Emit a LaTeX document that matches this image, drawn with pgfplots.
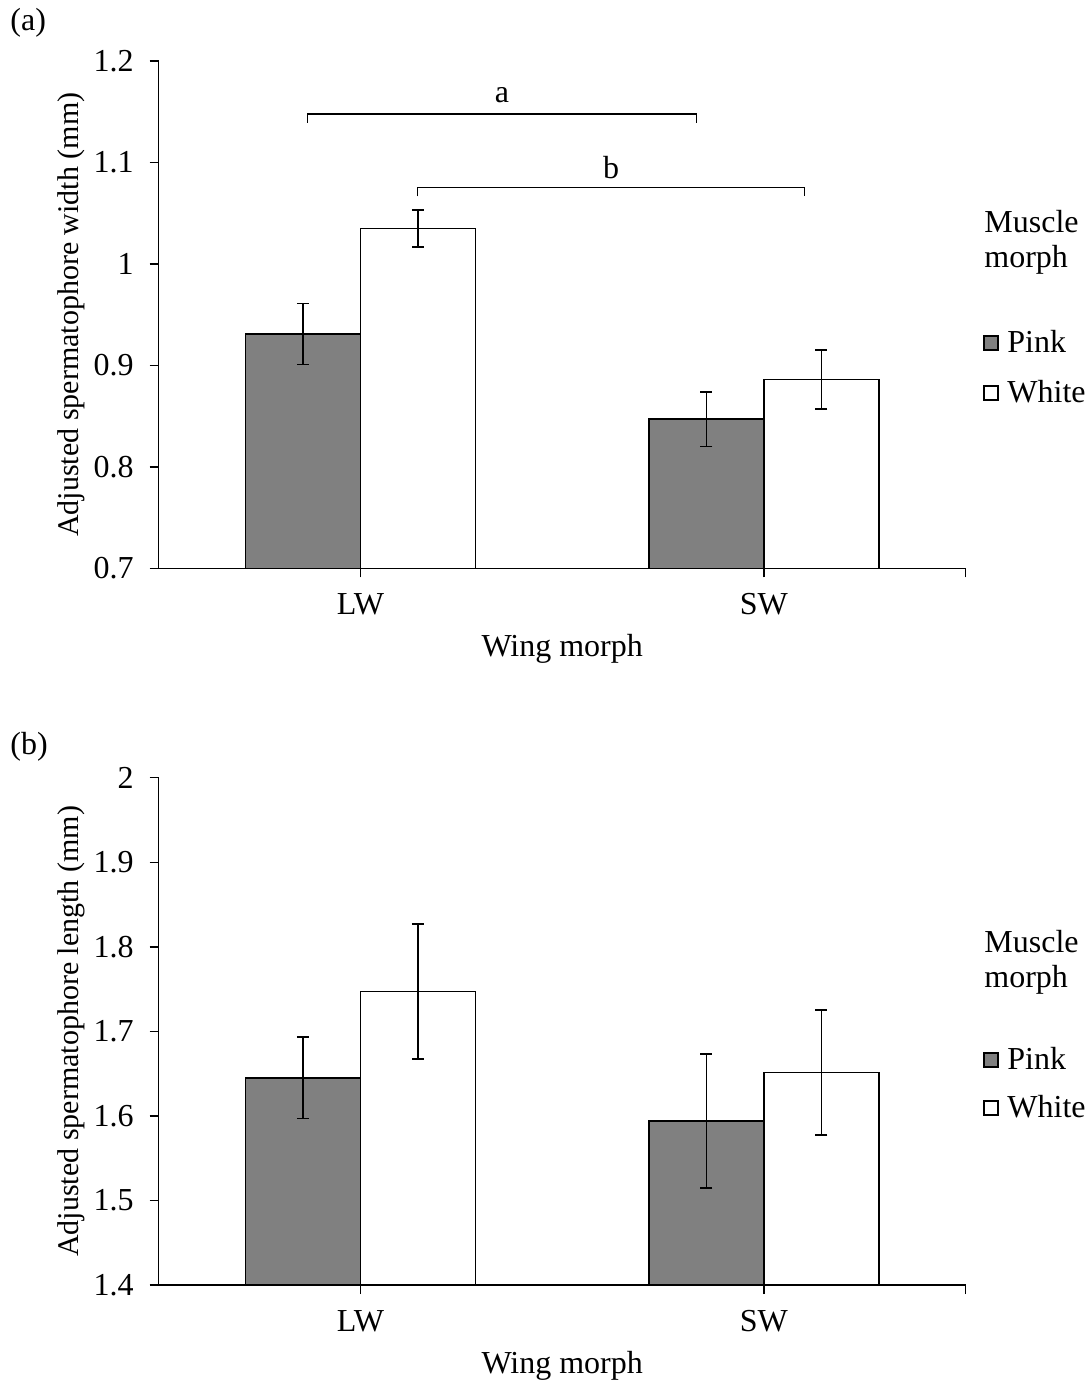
\documentclass[border=0pt]{standalone}
\usepackage{fontspec}
\setmainfont{Liberation Serif}
\usepackage{pgfplots}
\pgfplotsset{compat=1.18}

\newcommand{\fs}{\fontsize{16}{19}\selectfont}
\newcommand{\fy}{\fontsize{15}{18}\selectfont}

\pgfplotsset{
 panel/.style={
  at={(79.35pt,#1)}, anchor=south west,
  scale only axis, width=403.5pt, height=253.65pt,
  xmin=-0.5, xmax=1.5,
  axis x line=bottom, axis y line=left,
  axis line style={-, line width=0.7pt, black},
  tick align=outside, major tick length=4.5pt,
  tick style={line width=0.7pt, black},
  xtick={0,1,1.5}, xticklabels={LW,SW,{}},
  /pgf/number format/assume math mode=true,
  tick label style={font=\fs},
  xlabel style={font=\fs},
  ylabel style={font=\fy},
  yticklabel style={xshift=-4.5pt},
  xticklabel style={yshift=-4.5pt},
  xlabel={Wing morph},
  xlabel style={at={(axis description cs:0.5,0)}, anchor=base, yshift=-44.35pt},
  ylabel style={at={(axis description cs:-0.1087,0.5)}, anchor=center},
  clip=true,
 },
 errs/.style={
  error bars/y dir=both, error bars/y explicit,
  error bars/error bar style={line width=0.85pt, black},
  error bars/error mark options={rotate=90, mark size=3pt, line width=0.85pt, black},
 },
 pinkbar/.style={ybar, bar width=57.5pt, bar shift=0pt, fill=black!50, draw=black, line width=0.7pt, errs},
 whitebar/.style={ybar, bar width=57.5pt, bar shift=0pt, fill=white, draw=black, line width=0.7pt, errs},
}

\begin{document}
\begin{tikzpicture}
\path[use as bounding box] (0,0) rectangle (544.5pt,693.5pt);

% ---------------- Panel (a)
\begin{axis}[panel=409.35pt,
  ymin=0.7, ymax=1.2, ytick={0.7,0.8,0.9,1.0,1.1,1.2},
  ylabel={Adjusted spermatophore width (mm)}]
% Pink: LW, SW
\addplot[pinkbar] coordinates {(-0.1425,0.931) +- (0,0.030) (0.8575,0.847) +- (0,0.027)};
% White: LW, SW
\addplot[whitebar] coordinates {(0.1425,1.035) +- (0,0.018) (1.1425,0.886) +- (0,0.029)};
\addplot[black, line width=0.75pt, mark=none] coordinates {(-0.131,1.1392) (-0.131,1.1477) (0.833,1.1477) (0.833,1.1392)};
\addplot[black, line width=0.75pt, mark=none] coordinates {(0.142,1.0665) (0.142,1.0753) (1.100,1.0753) (1.100,1.0665)};
\node[anchor=base, font=\fs] at (axis cs:0.351,1.1591) {a};
\node[anchor=base, font=\fs] at (axis cs:0.621,1.0839) {b};
\end{axis}

\node[anchor=base west, font=\fs, inner sep=0pt] at (5pt,678pt) {(a)};
\node[anchor=base west, font=\fs, inner sep=0pt] at (492pt,577pt) {Muscle};
\node[anchor=base west, font=\fs, inner sep=0pt] at (492pt,559.5pt) {morph};
\draw[fill=black!50, line width=0.65pt] (492pt,518.5pt) rectangle (499pt,525.5pt);
\node[anchor=base west, font=\fs, inner sep=0pt] at (503.5pt,517pt) {Pink};
\draw[fill=white, line width=0.65pt] (492pt,493.5pt) rectangle (499pt,500.5pt);
\node[anchor=base west, font=\fs, inner sep=0pt] at (503.5pt,492pt) {White};

% ---------------- Panel (b)
\begin{axis}[panel=51pt,
  ymin=1.4, ymax=2.0, ytick={1.4,1.5,1.6,1.7,1.8,1.9,2.0},
  ylabel={Adjusted spermatophore length (mm)}]
\addplot[pinkbar] coordinates {(-0.1425,1.645) +- (0,0.048) (0.8575,1.594) +- (0,0.079)};
\addplot[whitebar] coordinates {(0.1425,1.747) +- (0,0.080) (1.1425,1.651) +- (0,0.074)};
\end{axis}

\node[anchor=base west, font=\fs, inner sep=0pt] at (5pt,316pt) {(b)};
\node[anchor=base west, font=\fs, inner sep=0pt] at (492pt,217pt) {Muscle};
\node[anchor=base west, font=\fs, inner sep=0pt] at (492pt,199.5pt) {morph};
\draw[fill=black!50, line width=0.65pt] (492pt,160pt) rectangle (499pt,167pt);
\node[anchor=base west, font=\fs, inner sep=0pt] at (503.5pt,158.5pt) {Pink};
\draw[fill=white, line width=0.65pt] (492pt,136pt) rectangle (499pt,143pt);
\node[anchor=base west, font=\fs, inner sep=0pt] at (503.5pt,134.5pt) {White};
\end{tikzpicture}
\end{document}
